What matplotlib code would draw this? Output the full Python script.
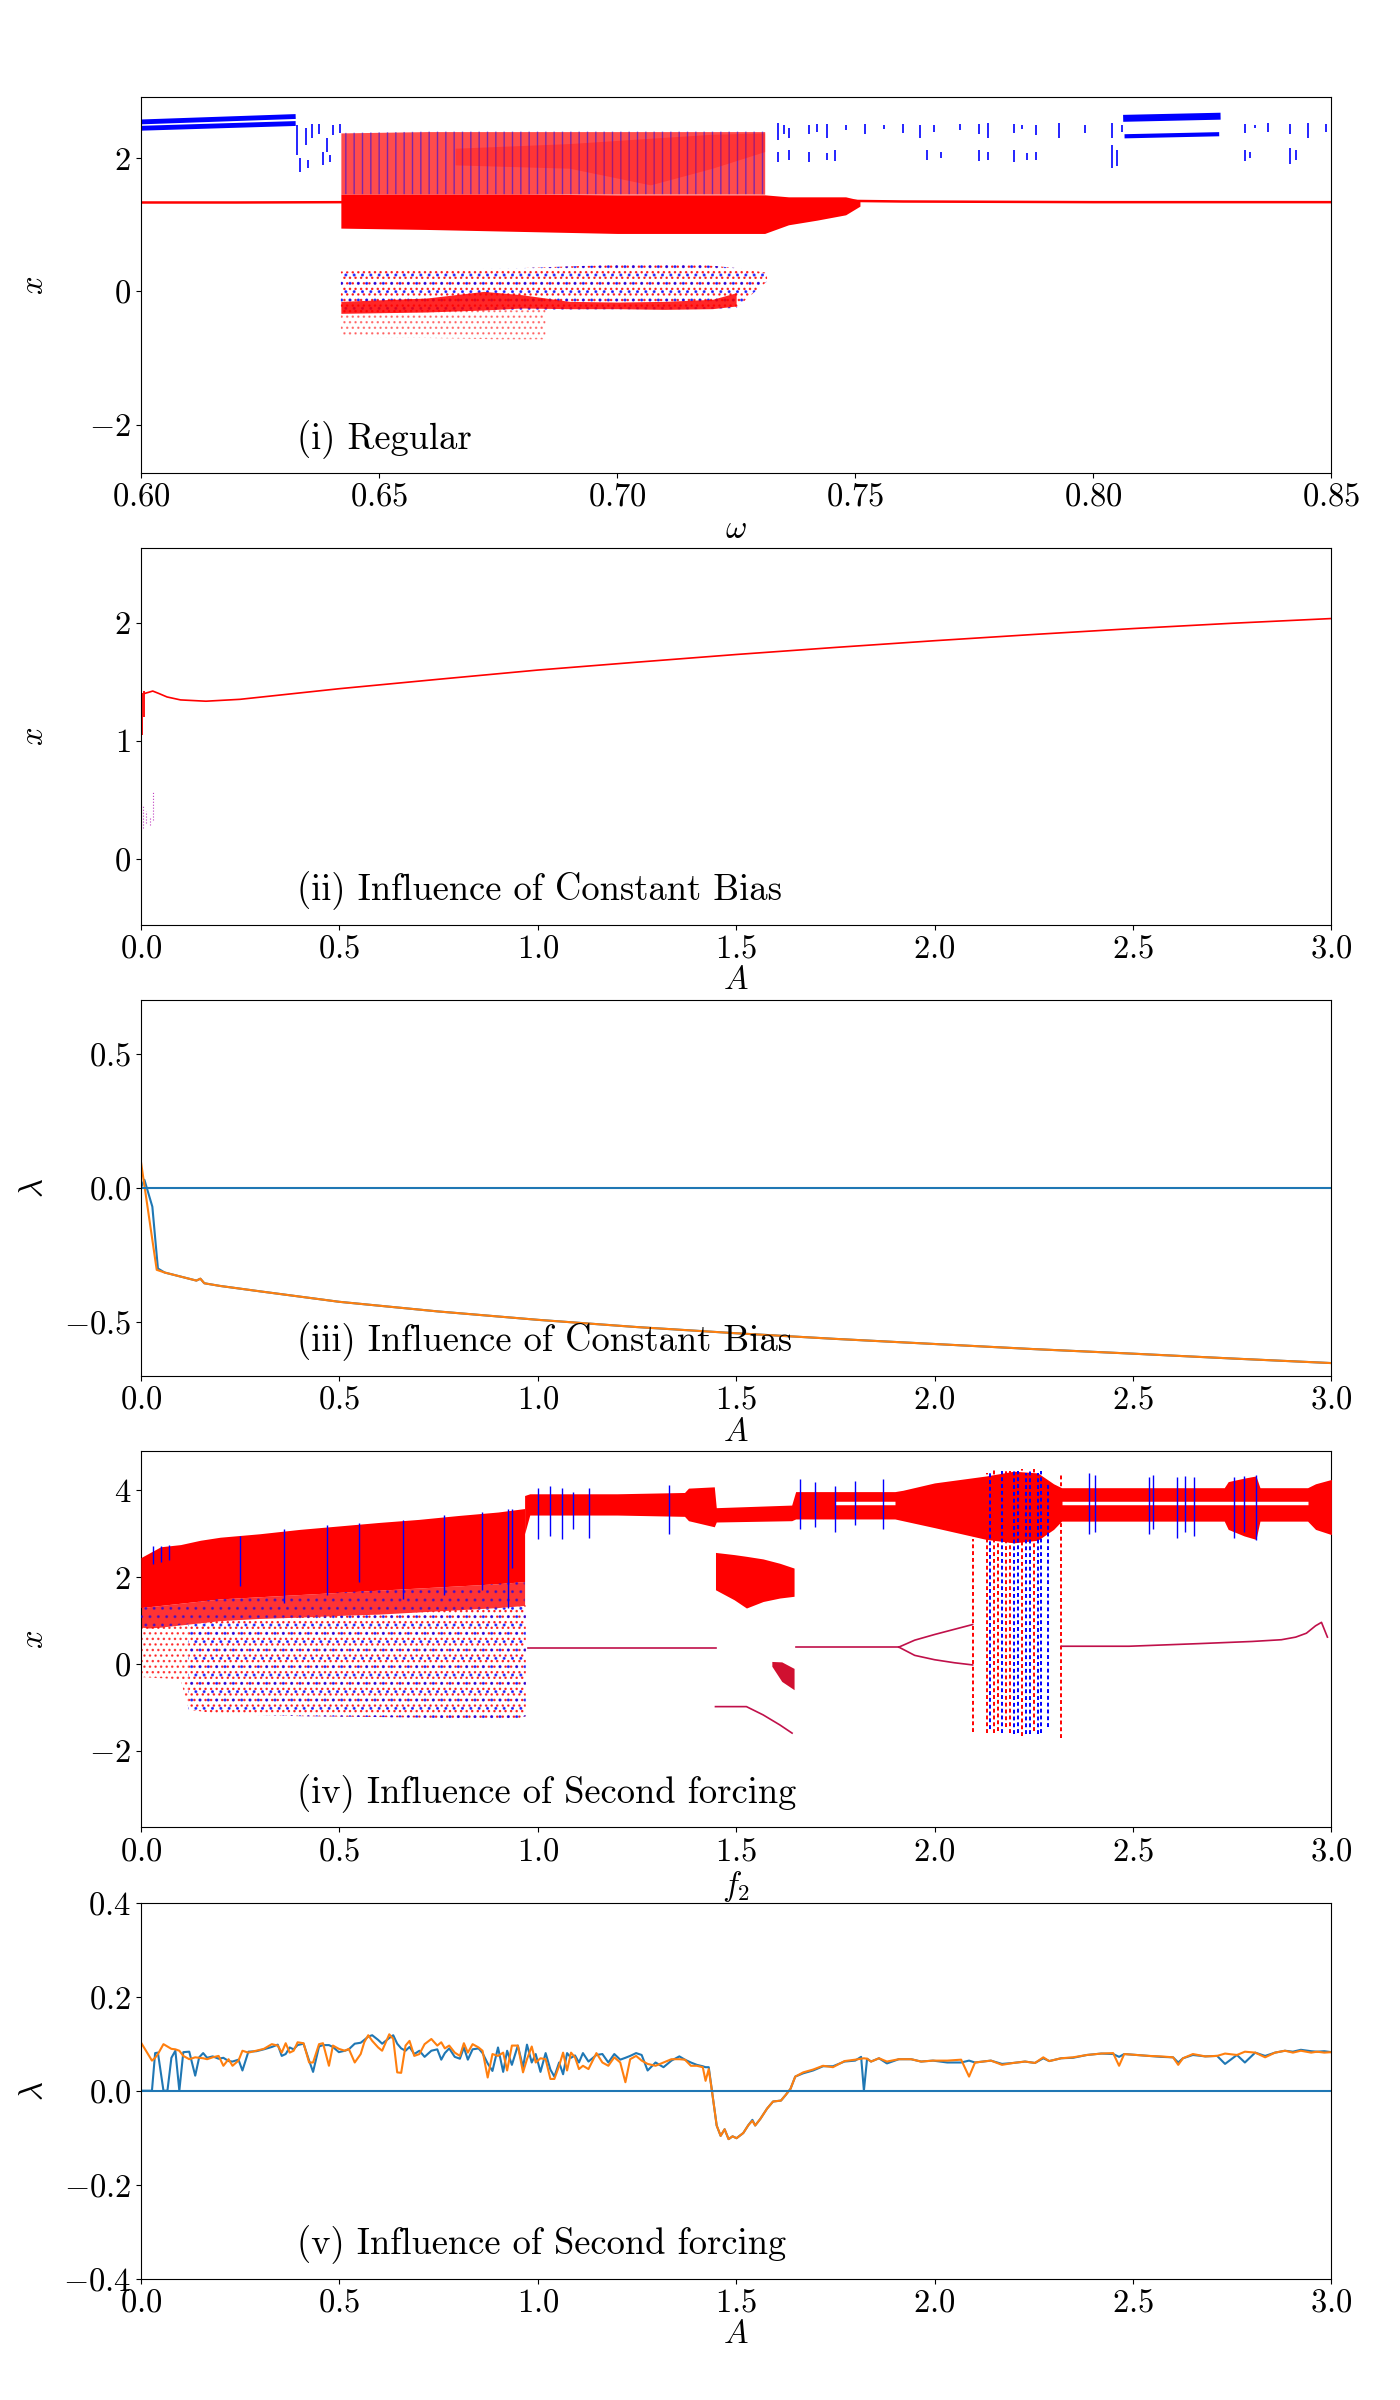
import matplotlib
matplotlib.use("Agg")
import matplotlib.pyplot as plt
from matplotlib.ticker import FormatStrFormatter, MultipleLocator

plt.rcParams['font.family'] = 'serif'
plt.rcParams['font.serif'] = ['cmr10']
plt.rcParams['mathtext.fontset'] = 'cm'
plt.rcParams['hatch.linewidth'] = 1.0

RED = '#ff0000'
BLUE = '#0000ff'
TICK = 23.5
TXT = 26.3

# ---------------- panel (i): x vs omega ----------------
# fixed point branch
w_line_l = [0.600, 0.620, 0.643]
x_line_l = [1.335, 1.335, 1.34]
w_line_r = [0.748, 0.760, 0.780, 0.800, 0.820, 0.850]
x_line_r = [1.36, 1.35, 1.345, 1.34, 1.34, 1.34]
# blue period-2 pieces
w_blue_l = [0.600, 0.632]
x_blue_l_up = [2.545, 2.625]
x_blue_l_dn = [2.45, 2.52]
w_blue_r = [0.807, 0.826]
x_blue_r_up = [2.60, 2.63]
x_blue_r_dn = [2.33, 2.36]
# chaotic cloud, upper part
w_up = [0.642, 0.660, 0.680, 0.700, 0.720, 0.731]
up_lo = [1.46, 1.46, 1.46, 1.46, 1.46, 1.46]
up_hi = [2.38, 2.40, 2.40, 2.40, 2.40, 2.40]
# denser part of the upper cloud
w_dn = [0.666, 0.690, 0.707, 0.720, 0.731]
dn_lo = [1.90, 1.85, 1.60, 1.85, 2.10]
dn_hi = [2.15, 2.22, 2.30, 2.36, 2.38]
# dense core band
w_core = [0.642, 0.660, 0.680, 0.700, 0.720, 0.731, 0.736, 0.742, 0.748, 0.751]
core_lo = [0.95, 0.93, 0.90, 0.87, 0.87, 0.87, 1.00, 1.07, 1.15, 1.28]
core_hi = [1.46, 1.46, 1.46, 1.45, 1.45, 1.45, 1.42, 1.42, 1.42, 1.37]
# lower cloud
w_low = [0.642, 0.660, 0.680, 0.700, 0.715, 0.725, 0.7315]
low_lo = [-0.33, -0.30, -0.28, -0.27, -0.27, -0.25, 0.15]
low_hi = [0.30, 0.32, 0.35, 0.40, 0.42, 0.35, 0.28]
w_lowc = [0.642, 0.660, 0.672, 0.680, 0.690, 0.700, 0.710, 0.720, 0.725]
lowc_lo = [-0.33, -0.31, -0.28, -0.25, -0.26, -0.26, -0.27, -0.26, -0.22]
lowc_hi = [-0.15, -0.10, 0.00, -0.05, -0.15, -0.16, -0.15, -0.12, -0.02]
w_tail = [0.642, 0.660, 0.675, 0.685]
tail_lo = [-0.68, -0.70, -0.72, -0.72]
tail_hi = [-0.30, -0.30, -0.29, -0.28]
# blue sticks, upper tier (omega, bottom, top)
st_w = [0.6327, 0.6346, 0.6360, 0.6375, 0.6390, 0.6404, 0.6418,
        0.7337, 0.7350, 0.7360, 0.7403, 0.7420, 0.7440, 0.7480, 0.7520, 0.7560,
        0.7600, 0.7637, 0.7665, 0.7720, 0.7759, 0.7778, 0.7834, 0.7850, 0.7880,
        0.7927, 0.7983, 0.8040, 0.8060, 0.8319, 0.8340, 0.8366, 0.8413, 0.8450, 0.8488]
st_lo = [2.05, 2.20, 2.30, 2.36, 2.10, 2.35, 2.38,
         2.28, 2.36, 2.30, 2.36, 2.40, 2.30, 2.42, 2.36, 2.44,
         2.38, 2.30, 2.40, 2.42, 2.36, 2.30, 2.38, 2.44, 2.35,
         2.30, 2.38, 2.30, 2.40, 2.38, 2.46, 2.40, 2.36, 2.30, 2.40]
st_hi = [2.50, 2.45, 2.52, 2.52, 2.30, 2.50, 2.52,
         2.53, 2.50, 2.45, 2.50, 2.52, 2.52, 2.50, 2.52, 2.50,
         2.52, 2.50, 2.50, 2.52, 2.52, 2.53, 2.52, 2.50, 2.50,
         2.53, 2.50, 2.53, 2.50, 2.52, 2.50, 2.53, 2.52, 2.53, 2.52]
# blue sticks, lower tier
sl_w = [0.6335, 0.6352, 0.6382, 0.6398, 0.7337, 0.7360, 0.7403, 0.7440, 0.7458,
        0.7650, 0.7680, 0.7759, 0.7778, 0.7834, 0.7860, 0.7880, 0.8040, 0.8050,
        0.8319, 0.8330, 0.8413, 0.8425]
sl_lo = [1.80, 1.85, 1.90, 1.95, 1.95, 1.97, 1.95, 1.98, 1.96,
         1.98, 2.00, 1.96, 1.98, 1.95, 1.97, 1.98, 1.85, 1.88,
         1.96, 2.00, 1.92, 1.98]
sl_hi = [2.00, 1.98, 2.10, 2.05, 2.10, 2.12, 2.10, 2.08, 2.12,
         2.12, 2.10, 2.12, 2.10, 2.12, 2.08, 2.10, 2.20, 2.12,
         2.12, 2.10, 2.15, 2.12]

# ---------------- panel (ii): x vs A ----------------
A2 = [0.01, 0.02, 0.03, 0.045, 0.066, 0.10, 0.164, 0.25, 0.50, 0.75,
      1.00, 1.25, 1.50, 1.75, 2.00, 2.25, 2.50, 2.75, 3.00]
x2 = [1.40, 1.41, 1.42, 1.40, 1.37, 1.345, 1.334, 1.35, 1.44, 1.52,
      1.598, 1.665, 1.73, 1.79, 1.847, 1.90, 1.95, 1.995, 2.035]
A2_jump = [0.004, 0.008]
x2_jump_lo = [1.05, 1.20]
x2_jump_hi = [1.40, 1.42]
A2_low = [0.005, 0.012, 0.022, 0.030]
x2_low_lo = [0.26, 0.30, 0.28, 0.33]
x2_low_hi = [0.45, 0.40, 0.35, 0.56]

# ---------------- panel (iii): lambda vs A ----------------
A3_o = [0.0, 0.040, 0.060, 0.10, 0.14, 0.15, 0.16, 0.20, 0.30, 0.50, 0.75,
        1.00, 1.25, 1.50, 1.75, 2.00, 2.25, 2.50, 2.75, 3.00]
lam3_o = [0.10, -0.305, -0.315, -0.33, -0.345, -0.338, -0.355, -0.365, -0.385,
          -0.424, -0.46, -0.491, -0.518, -0.541, -0.562, -0.581, -0.60, -0.617,
          -0.635, -0.652]
A3_b = [0.0, 0.009, 0.029, 0.043] + A3_o[2:]
lam3_b = [0.0, 0.03, -0.07, -0.30] + lam3_o[2:]

# ---------------- panel (iv): x vs f2 ----------------
f_band = [0.0, 0.02, 0.05, 0.10, 0.15, 0.20, 0.30, 0.40, 0.50, 0.60, 0.70, 0.80, 0.90, 0.967]
band_hi = [2.45, 2.55, 2.70, 2.75, 2.85, 2.92, 3.00, 3.10, 3.18, 3.26, 3.33, 3.42, 3.50, 3.58]
band_lo = [0.85, 0.83, 0.85, 0.90, 0.95, 1.00, 1.05, 1.08, 1.12, 1.15, 1.20, 1.25, 1.30, 1.35]
band_core = [1.30, 1.32, 1.35, 1.40, 1.45, 1.50, 1.55, 1.60, 1.65, 1.70, 1.75, 1.80, 1.85, 1.90]
f_cl = [0.0, 0.10, 0.12, 0.20, 0.40, 0.60, 0.80, 0.95, 0.97]
cl_lo = [-0.30, -0.35, -1.05, -1.15, -1.20, -1.22, -1.25, -1.25, -1.20]
cl_hi = [0.85, 0.88, 0.90, 1.00, 1.08, 1.15, 1.25, 1.32, 1.35]
f_b = [0.967, 0.98, 1.20, 1.37, 1.38, 1.445, 1.45, 1.64, 1.65, 1.90, 1.92, 2.00,
       2.13, 2.20, 2.26, 2.30, 2.32, 2.50, 2.73, 2.74, 2.78, 2.81, 2.82, 2.94, 2.96, 3.00]
b_hi = [3.88, 3.92, 3.92, 3.95, 4.05, 4.08, 3.60, 3.66, 3.97, 3.97, 4.00, 4.17,
        4.33, 4.44, 4.40, 4.15, 4.06, 4.06, 4.06, 4.20, 4.28, 4.33, 4.06, 4.06, 4.15, 4.25]
b_lo = [3.00, 3.43, 3.43, 3.40, 3.30, 3.16, 3.27, 3.30, 3.34, 3.34, 3.30, 3.14,
        2.87, 2.79, 2.85, 3.10, 3.29, 3.29, 3.29, 3.10, 2.95, 2.87, 3.29, 3.29, 3.10, 2.98]
# white gap inside the band
gap_f = [(1.75, 1.90), (2.32, 2.94)]
gap_x = 3.71
# red block between f2 = 1.45 and 1.65
f_blk = [1.448, 1.495, 1.526, 1.568, 1.610, 1.646]
blk_hi = [2.57, 2.52, 2.48, 2.42, 2.32, 2.21]
blk_lo = [1.71, 1.48, 1.29, 1.44, 1.52, 1.56]
f_blk2 = [1.590, 1.615, 1.646]
blk2_lo = [-0.05, -0.40, -0.59]
blk2_hi = [0.06, 0.05, -0.10]
# periodic branches
f_p1 = [0.975, 1.45]
x_p1 = [0.38, 0.38]
f_p2 = [1.65, 1.91]
x_p2 = [0.39, 0.39]
f_up = [1.91, 1.95, 2.00, 2.05, 2.096]
x_up = [0.39, 0.55, 0.68, 0.80, 0.91]
f_dn = [1.91, 1.95, 2.00, 2.05, 2.096]
x_dn = [0.39, 0.20, 0.10, 0.03, -0.02]
f_p3 = [2.32, 2.49, 2.665, 2.80, 2.874, 2.91, 2.937, 2.96, 2.975, 2.99]
x_p3 = [0.41, 0.41, 0.47, 0.52, 0.56, 0.62, 0.71, 0.88, 0.96, 0.62]
f_c = [1.448, 1.526, 1.568, 1.610, 1.641]
x_c = [-0.98, -0.98, -1.17, -1.40, -1.59]
# chaotic columns (f2, bottom, top, colour)
col_f = [2.096, 2.132, 2.140, 2.150, 2.160, 2.170, 2.180, 2.190, 2.200,
         2.210, 2.220, 2.230, 2.240, 2.250, 2.260, 2.268, 2.287, 2.318]
col_lo = [-1.56, -1.59, -1.50, -1.59, -1.55, -1.59, -1.45, -1.59, -1.62,
          -1.59, -1.65, -1.60, -1.62, -1.55, -1.60, -1.58, -1.44, -1.71]
col_hi = [2.87, 4.40, 4.45, 4.48, 4.40, 4.45, 4.48, 4.45, 4.48,
          4.45, 4.48, 4.40, 4.45, 4.48, 4.40, 4.45, 4.20, 4.40]
col_c = ['r', 'r', 'b', 'r', 'r', 'b', 'r', 'r', 'b',
         'b', 'r', 'b', 'b', 'r', 'b', 'b', 'b', 'r']
# blue spikes in the bands (f2, bottom, top)
bsp_f = [0.03, 0.05, 0.07, 0.25, 0.36, 0.47, 0.55, 0.66, 0.765, 0.86, 0.925, 0.935,
         1.00, 1.03, 1.06, 1.09, 1.13, 1.33, 1.662, 1.70, 1.75, 1.80, 1.871,
         2.388, 2.404, 2.54, 2.55, 2.61, 2.63, 2.655, 2.754, 2.78, 2.81]
bsp_lo = [2.30, 2.35, 2.40, 1.80, 1.40, 1.60, 1.90, 1.50, 1.60, 1.70, 1.30, 2.20,
          2.87, 2.95, 2.87, 3.10, 2.90, 3.00, 3.10, 3.15, 3.05, 3.20, 3.10,
          3.00, 3.05, 3.00, 3.10, 2.90, 3.05, 2.95, 2.90, 3.05, 2.85]
bsp_hi = [2.72, 2.72, 2.74, 2.95, 3.10, 3.20, 3.25, 3.32, 3.42, 3.50, 3.57, 3.57,
          4.06, 4.10, 4.06, 3.95, 4.06, 4.12, 4.25, 4.20, 4.10, 4.22, 4.25,
          4.40, 4.35, 4.30, 4.35, 4.30, 4.32, 4.30, 4.30, 4.32, 4.35]

# ---------------- panel (v): lambda vs A ----------------
A5 = [0.0, 0.013, 0.028, 0.036, 0.043, 0.057, 0.067, 0.077, 0.087, 0.097, 0.107,
      0.122, 0.137, 0.147, 0.157, 0.167, 0.181, 0.196, 0.208, 0.221, 0.231, 0.246,
      0.256, 0.271, 0.291, 0.31, 0.33, 0.345, 0.355, 0.365, 0.375, 0.385, 0.395,
      0.41, 0.424, 0.434, 0.449, 0.459, 0.474, 0.484, 0.499, 0.514, 0.524, 0.539,
      0.554, 0.563, 0.573, 0.583, 0.598, 0.608, 0.626, 0.636, 0.646, 0.656, 0.667,
      0.677, 0.689, 0.702, 0.715, 0.732, 0.747, 0.757, 0.766, 0.777, 0.791, 0.804,
      0.814, 0.824, 0.836, 0.851, 0.861, 0.874, 0.886, 0.90, 0.913, 0.923, 0.935,
      0.95, 0.963, 0.973, 0.985, 0.995, 1.007, 1.02, 1.032, 1.042, 1.054, 1.064,
      1.074, 1.084, 1.094, 1.104, 1.114, 1.128, 1.148, 1.163, 1.178, 1.193, 1.208,
      1.221, 1.233, 1.248, 1.262, 1.277, 1.297, 1.317, 1.337, 1.357, 1.371, 1.386,
      1.401, 1.416, 1.423, 1.431, 1.439, 1.451, 1.461, 1.471, 1.481, 1.491, 1.501,
      1.518, 1.531, 1.541, 1.548, 1.561, 1.578, 1.593, 1.613, 1.625, 1.637, 1.649,
      1.669, 1.694, 1.719, 1.744, 1.773, 1.80, 1.815, 1.822, 1.830, 1.84, 1.86,
      1.88, 1.91, 1.941, 1.966, 1.996, 2.032, 2.067, 2.087, 2.102, 2.122, 2.142,
      2.170, 2.198, 2.228, 2.253, 2.274, 2.289, 2.319, 2.349, 2.384, 2.42, 2.45,
      2.465, 2.478, 2.51, 2.54, 2.57, 2.601, 2.614, 2.626, 2.651, 2.682, 2.712,
      2.732, 2.762, 2.782, 2.808, 2.833, 2.858, 2.883, 2.903, 2.923, 2.949, 2.964,
      2.982, 3.0]
lam5_o = [0.103, 0.085, 0.064, 0.070, 0.078, 0.099, 0.094, 0.089, 0.088, 0.085, 0.074,
          0.067, 0.071, 0.070, 0.069, 0.067, 0.071, 0.074, 0.053, 0.067, 0.053, 0.064,
          0.085, 0.081, 0.085, 0.089, 0.099, 0.096, 0.081, 0.101, 0.081, 0.085, 0.103,
          0.101, 0.060, 0.060, 0.099, 0.101, 0.053, 0.096, 0.089, 0.085, 0.089, 0.060,
          0.078, 0.103, 0.118, 0.106, 0.092, 0.085, 0.120, 0.110, 0.039, 0.038, 0.096,
          0.106, 0.074, 0.078, 0.099, 0.110, 0.096, 0.103, 0.090, 0.096, 0.081, 0.074,
          0.101, 0.081, 0.099, 0.092, 0.085, 0.028, 0.078, 0.074, 0.081, 0.043, 0.096,
          0.096, 0.039, 0.067, 0.094, 0.060, 0.069, 0.067, 0.025, 0.025, 0.053, 0.081,
          0.043, 0.081, 0.071, 0.046, 0.053, 0.046, 0.080, 0.060, 0.053, 0.071, 0.060,
          0.018, 0.067, 0.074, 0.064, 0.057, 0.053, 0.060, 0.067, 0.067, 0.066, 0.053,
          0.053, 0.050, 0.021, 0.046, 0.000, -0.074, -0.096, -0.082, -0.103, -0.097, -0.101,
          -0.090, -0.073, -0.064, -0.074, -0.060, -0.038, -0.023, -0.021, -0.009, 0.004, 0.030,
          0.039, 0.045, 0.053, 0.050, 0.063, 0.066, 0.068, 0.069, 0.068, 0.062, 0.069,
          0.062, 0.067, 0.067, 0.062, 0.064, 0.064, 0.066, 0.030, 0.060, 0.062, 0.064,
          0.055, 0.059, 0.062, 0.059, 0.071, 0.063, 0.069, 0.071, 0.076, 0.079, 0.080,
          0.053, 0.078, 0.076, 0.074, 0.073, 0.071, 0.055, 0.069, 0.078, 0.073, 0.074,
          0.079, 0.076, 0.083, 0.081, 0.071, 0.081, 0.085, 0.081, 0.085, 0.081, 0.083,
          0.081, 0.082]
lam5_b = [0.000, 0.000, 0.000, 0.080, 0.081, 0.000, 0.000, 0.070, 0.085, 0.000, 0.082,
          0.083, 0.032, 0.071, 0.080, 0.070, 0.073, 0.068, 0.070, 0.063, 0.062, 0.066,
          0.043, 0.083, 0.084, 0.088, 0.093, 0.098, 0.074, 0.078, 0.092, 0.088, 0.097,
          0.100, 0.064, 0.040, 0.094, 0.097, 0.097, 0.093, 0.082, 0.085, 0.088, 0.100,
          0.102, 0.108, 0.115, 0.118, 0.108, 0.100, 0.112, 0.118, 0.100, 0.090, 0.085,
          0.093, 0.078, 0.085, 0.072, 0.085, 0.088, 0.066, 0.080, 0.090, 0.072, 0.068,
          0.092, 0.066, 0.088, 0.090, 0.080, 0.058, 0.042, 0.092, 0.040, 0.085, 0.055,
          0.096, 0.050, 0.098, 0.060, 0.078, 0.040, 0.080, 0.045, 0.030, 0.060, 0.035,
          0.080, 0.070, 0.075, 0.060, 0.080, 0.062, 0.076, 0.078, 0.060, 0.078, 0.066,
          0.070, 0.074, 0.080, 0.076, 0.043, 0.060, 0.050, 0.064, 0.073, 0.066, 0.060,
          0.055, 0.052, 0.050, 0.050, 0.000, -0.074, -0.096, -0.082, -0.103, -0.097, -0.101,
          -0.090, -0.073, -0.062, -0.074, -0.060, -0.038, -0.023, -0.021, -0.009, 0.004, 0.030,
          0.037, 0.043, 0.052, 0.052, 0.062, 0.064, 0.072, 0.000, 0.068, 0.062, 0.069,
          0.058, 0.067, 0.067, 0.062, 0.064, 0.060, 0.060, 0.064, 0.060, 0.062, 0.064,
          0.057, 0.059, 0.062, 0.059, 0.069, 0.063, 0.069, 0.070, 0.076, 0.079, 0.078,
          0.072, 0.078, 0.076, 0.074, 0.072, 0.071, 0.060, 0.069, 0.076, 0.073, 0.074,
          0.057, 0.076, 0.060, 0.081, 0.074, 0.081, 0.085, 0.083, 0.087, 0.084, 0.083,
          0.084, 0.082]


def speckle(ax, x, lo, hi, color, hatch, alpha=1.0, z=1):
    ax.fill_between(x, lo, hi, facecolor='none', edgecolor=color, hatch=hatch,
                    linewidth=0, alpha=alpha, zorder=z)


def style(ax, xlabel, ylabel, xfmt, yfmt, label):
    ax.set_xlabel(xlabel, fontsize=TICK, labelpad=2)
    ax.set_ylabel(ylabel, fontsize=TICK)
    ax.yaxis.set_label_coords(-0.077, 0.5)
    ax.xaxis.set_major_formatter(FormatStrFormatter(xfmt))
    ax.yaxis.set_major_formatter(FormatStrFormatter(yfmt))
    ax.tick_params(labelsize=TICK)
    ax.text(0.131, 0.065, label, transform=ax.transAxes, fontsize=TXT,
            va='baseline', ha='left', zorder=10)


fig, axes = plt.subplots(5, 1, figsize=(14, 24), dpi=100)
fig.subplots_adjust(left=0.1006, right=0.951, top=0.9596, bottom=0.0505, hspace=0.2)

# (i)
ax = axes[0]
speckle(ax, w_tail, tail_lo, tail_hi, RED, '...', alpha=0.45)
speckle(ax, w_low, low_lo, low_hi, RED, '...', alpha=0.8)
speckle(ax, w_low, low_lo, low_hi, BLUE, '..', alpha=0.7)
ax.fill_between(w_lowc, lowc_lo, lowc_hi, color=RED, linewidth=0, alpha=0.85, zorder=2)
ax.fill_between(w_up, up_lo, up_hi, color=RED, linewidth=0, alpha=0.7, zorder=1)
speckle(ax, w_up, up_lo, up_hi, BLUE, '||', alpha=0.5, z=2)
ax.fill_between(w_dn, dn_lo, dn_hi, color=RED, linewidth=0, alpha=0.3, zorder=2)
ax.fill_between(w_core, core_lo, core_hi, color=RED, linewidth=0, zorder=3)
ax.vlines(st_w, st_lo, st_hi, color=BLUE, linewidth=1.2, zorder=3)
ax.vlines(sl_w, sl_lo, sl_hi, color=BLUE, linewidth=1.2, zorder=3)
ax.plot(w_line_l, x_line_l, color=RED, lw=1.8)
ax.plot(w_line_r, x_line_r, color=RED, lw=1.8)
ax.plot(w_blue_l, x_blue_l_up, color=BLUE, lw=3.5)
ax.plot(w_blue_l, x_blue_l_dn, color=BLUE, lw=3.5)
ax.plot(w_blue_r, x_blue_r_up, color=BLUE, lw=5)
ax.plot(w_blue_r, x_blue_r_dn, color=BLUE, lw=3)
ax.set_xlim(0.6, 0.85)
ax.set_ylim(-2.73, 2.92)
ax.xaxis.set_major_locator(MultipleLocator(0.05))
ax.yaxis.set_major_locator(MultipleLocator(2))
style(ax, r'$\omega$', r'$x$', '$%.2f$', '$%d$', '(i) Regular')

# (ii)
ax = axes[1]
ax.plot(A2, x2, color=RED, lw=1.2)
ax.vlines(A2_jump, x2_jump_lo, x2_jump_hi, color=RED, lw=1.3)
ax.vlines(A2_low, x2_low_lo, x2_low_hi, color='#c040c0', lw=0.8, linestyles='dotted')
ax.set_xlim(0, 3)
ax.set_ylim(-0.56, 2.63)
ax.xaxis.set_major_locator(MultipleLocator(0.5))
ax.yaxis.set_major_locator(MultipleLocator(1))
style(ax, r'$A$', r'$x$', '$%.1f$', '$%d$', '(ii) Influence of Constant Bias')

# (iii)
ax = axes[2]
ax.plot(A3_b, lam3_b, color='#1f77b4', lw=1.5)
ax.plot(A3_o, lam3_o, color='#ff7f0e', lw=1.5)
ax.axhline(0, color='#1f77b4', lw=1.5)
ax.set_xlim(0, 3)
ax.set_ylim(-0.70, 0.70)
ax.xaxis.set_major_locator(MultipleLocator(0.5))
ax.yaxis.set_major_locator(MultipleLocator(0.5))
style(ax, r'$A$', r'$\lambda$', '$%.1f$', '$%.1f$', '(iii) Influence of Constant Bias')

# (iv)
ax = axes[3]
speckle(ax, f_cl[:3], cl_lo[:3], cl_hi[:3], RED, '...', alpha=0.7)
speckle(ax, f_cl[2:], cl_lo[2:], cl_hi[2:], RED, '...', alpha=0.8)
speckle(ax, f_cl[2:], cl_lo[2:], cl_hi[2:], BLUE, '..', alpha=0.7)
ax.fill_between(f_band, band_lo, band_core, color=RED, linewidth=0, alpha=0.8, zorder=2)
ax.fill_between(f_band, band_core, band_hi, color=RED, linewidth=0, zorder=3)
speckle(ax, f_band, band_lo, band_core, BLUE, '..', alpha=0.5, z=3)
ax.fill_between(f_b, b_lo, b_hi, color=RED, linewidth=0, zorder=3)
for f0, f1 in gap_f:
    ax.hlines(gap_x, f0, f1, color='white', lw=2.5, zorder=4)
ax.fill_between(f_blk, blk_lo, blk_hi, color=RED, linewidth=0, zorder=3)
ax.fill_between(f_blk2, blk2_lo, blk2_hi, color='#d01030', linewidth=0, zorder=3)
for c in ['r', 'b']:
    fs = [f for f, k in zip(col_f, col_c) if k == c]
    lo = [v for v, k in zip(col_lo, col_c) if k == c]
    hi = [v for v, k in zip(col_hi, col_c) if k == c]
    ax.vlines(fs, lo, hi, color=RED if c == 'r' else BLUE, lw=1.4,
              linestyles=(0, (2, 1.5)), zorder=4)
ax.vlines(bsp_f, bsp_lo, bsp_hi, color=BLUE, lw=1.0, zorder=4)
for fx, xx in [(f_p1, x_p1), (f_p2, x_p2), (f_up, x_up), (f_dn, x_dn), (f_p3, x_p3), (f_c, x_c)]:
    ax.plot(fx, xx, color='#c0104a', lw=1.2, zorder=5)
ax.set_xlim(0, 3)
ax.set_ylim(-3.76, 4.90)
ax.xaxis.set_major_locator(MultipleLocator(0.5))
ax.yaxis.set_major_locator(MultipleLocator(2))
style(ax, r'$f_2$', r'$x$', '$%.1f$', '$%d$', '(iv) Influence of Second forcing')

# (v)
ax = axes[4]
ax.plot(A5, lam5_b, color='#1f77b4', lw=1.5)
ax.plot(A5, lam5_o, color='#ff7f0e', lw=1.5)
ax.axhline(0, color='#1f77b4', lw=1.5)
ax.set_xlim(0, 3)
ax.set_ylim(-0.4, 0.4)
ax.xaxis.set_major_locator(MultipleLocator(0.5))
ax.yaxis.set_major_locator(MultipleLocator(0.2))
style(ax, r'$A$', r'$\lambda$', '$%.1f$', '$%.1f$', '(v) Influence of Second forcing')

fig.savefig('out.png', dpi=100)
